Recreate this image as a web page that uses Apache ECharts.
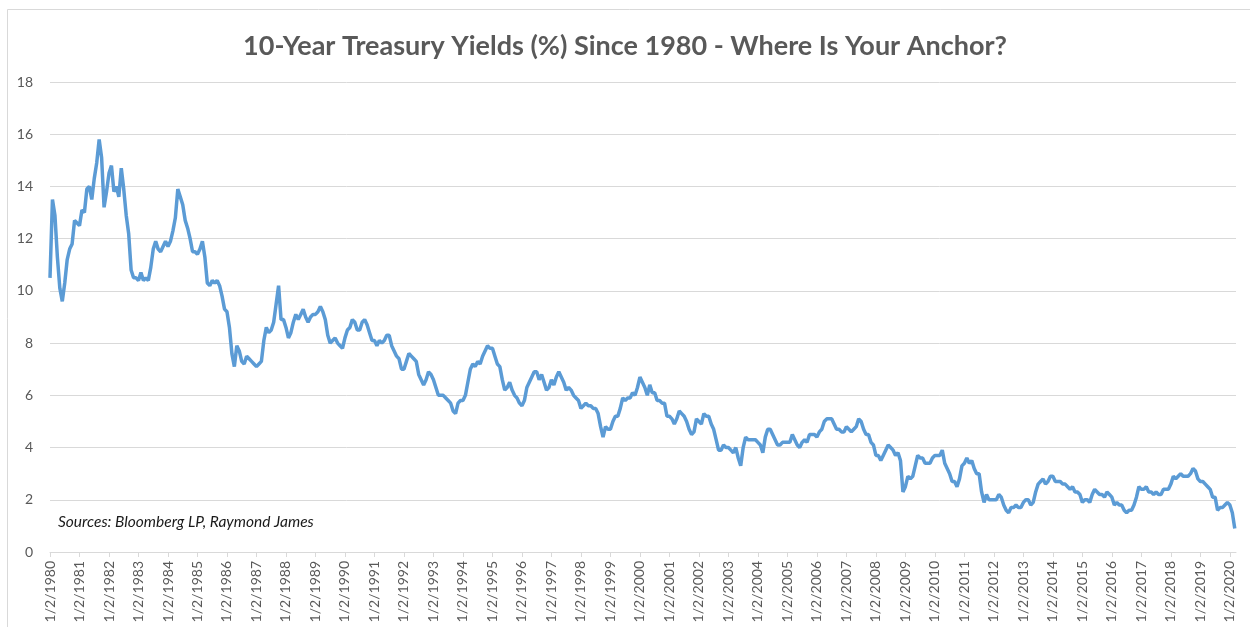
<!DOCTYPE html>
<html>
<head>
<meta charset="utf-8">
<script src="https://cdn.jsdelivr.net/npm/echarts@6/dist/echarts.min.js"></script>
<style>
html,body{margin:0;padding:0;background:#fff;}
#chart{width:1250px;height:627px;}
</style>
</head>
<body>
<div id="chart"></div>
<script>
// Tick labels (one per January)
const yearLabels = ['1/2/1980','1/2/1981','1/2/1982','1/2/1983','1/2/1984','1/2/1985','1/2/1986','1/2/1987','1/2/1988','1/2/1989','1/2/1990','1/2/1991','1/2/1992','1/2/1993','1/2/1994','1/2/1995','1/2/1996','1/2/1997','1/2/1998','1/2/1999','1/2/2000','1/2/2001','1/2/2002','1/2/2003','1/2/2004','1/2/2005','1/2/2006','1/2/2007','1/2/2008','1/2/2009','1/2/2010','1/2/2011','1/2/2012','1/2/2013','1/2/2014','1/2/2015','1/2/2016','1/2/2017','1/2/2018','1/2/2019','1/2/2020'];

// Monthly 10-year yields (%), Jan 1980 .. Mar 2020
const y1980s = [
  10.5,13.5,12.9,11.3,10.1,9.6,10.3,11.2,11.6,11.8,12.7,12.6,
  12.5,13.1,13.0,13.9,14.0,13.5,14.3,14.9,15.8,15.1,13.2,13.8,
  14.5,14.8,13.8,14.0,13.6,14.7,13.9,12.9,12.2,10.8,10.5,10.5,
  10.4,10.7,10.4,10.5,10.4,10.9,11.6,11.9,11.6,11.5,11.7,11.9,
  11.7,11.9,12.3,12.8,13.9,13.6,13.3,12.7,12.4,12.0,11.5,11.5,
  11.4,11.6,11.9,11.3,10.3,10.2,10.4,10.3,10.4,10.2,9.8,9.3,
  9.2,8.6,7.6,7.1,7.9,7.7,7.3,7.2,7.5,7.4,7.3,7.2,
  7.1,7.2,7.3,8.1,8.6,8.4,8.5,8.8,9.5,10.2,8.9,8.9,
  8.6,8.2,8.4,8.8,9.1,8.9,9.1,9.3,9.0,8.8,9.0,9.1,
  9.1,9.2,9.4,9.2,8.9,8.3,8.0,8.1,8.2,8.0,7.9,7.8
];
const y1990s = [
  8.2,8.5,8.6,8.9,8.8,8.5,8.5,8.8,8.9,8.7,8.4,8.1,
  8.1,7.9,8.1,8.0,8.1,8.3,8.3,7.9,7.7,7.5,7.4,7.0,
  7.0,7.3,7.6,7.5,7.4,7.3,6.8,6.6,6.4,6.6,6.9,6.8,
  6.6,6.3,6.0,6.0,6.0,5.9,5.8,5.7,5.4,5.3,5.7,5.8,
  5.8,6.0,6.5,7.0,7.2,7.1,7.3,7.2,7.5,7.7,7.9,7.8,
  7.8,7.5,7.2,7.1,6.6,6.2,6.3,6.5,6.2,6.0,5.9,5.7,
  5.6,5.8,6.3,6.5,6.7,6.9,6.9,6.6,6.8,6.5,6.2,6.3,
  6.6,6.4,6.7,6.9,6.7,6.5,6.2,6.3,6.2,6.0,5.9,5.8,
  5.5,5.6,5.7,5.6,5.6,5.5,5.5,5.3,4.8,4.4,4.8,4.7,
  4.7,5.0,5.2,5.2,5.5,5.9,5.8,5.9,5.9,6.1,6.0,6.3
];
const y2000s = [
  6.7,6.5,6.3,6.0,6.4,6.1,6.1,5.8,5.8,5.7,5.7,5.2,
  5.2,5.1,4.9,5.1,5.4,5.3,5.2,5.0,4.7,4.5,4.6,5.1,
  5.0,4.9,5.3,5.2,5.2,4.9,4.7,4.3,3.9,3.9,4.1,4.0,
  4.0,3.9,3.8,4.0,3.6,3.3,4.0,4.4,4.3,4.3,4.3,4.3,
  4.2,4.1,3.8,4.4,4.7,4.7,4.5,4.3,4.1,4.1,4.2,4.2,
  4.2,4.2,4.5,4.3,4.1,4.0,4.2,4.3,4.2,4.5,4.5,4.5,
  4.4,4.6,4.7,5.0,5.1,5.1,5.1,4.9,4.7,4.7,4.6,4.6,
  4.8,4.7,4.6,4.7,4.8,5.1,5.0,4.7,4.5,4.5,4.2,4.1,
  3.7,3.7,3.5,3.7,3.9,4.1,4.0,3.9,3.7,3.8,3.5,2.3,
  2.5,2.9,2.8,2.9,3.3,3.7,3.6,3.6,3.4,3.4,3.4,3.6
];
const y2010s = [
  3.7,3.7,3.7,3.9,3.4,3.2,3.0,2.7,2.7,2.5,2.8,3.3,
  3.4,3.6,3.4,3.5,3.2,3.0,3.0,2.3,1.9,2.2,2.0,2.0,
  2.0,2.0,2.2,2.1,1.8,1.6,1.5,1.7,1.7,1.8,1.7,1.7,
  1.9,2.0,2.0,1.8,1.9,2.3,2.6,2.7,2.8,2.6,2.7,2.9,
  2.9,2.7,2.7,2.7,2.6,2.6,2.5,2.4,2.5,2.3,2.3,2.2,
  1.9,2.0,2.0,1.9,2.2,2.4,2.3,2.2,2.2,2.1,2.3,2.2,
  2.1,1.8,1.9,1.8,1.8,1.6,1.5,1.6,1.6,1.8,2.1,2.5,
  2.4,2.4,2.5,2.3,2.3,2.2,2.3,2.2,2.2,2.4,2.4,2.4,
  2.6,2.9,2.8,2.9,3.0,2.9,2.9,2.9,3.0,3.2,3.1,2.8,
  2.7,2.7,2.6,2.5,2.4,2.1,2.1,1.6,1.7,1.7,1.8,1.9
];
const y2020s = [1.8,1.5,0.9];

const yields = y1980s.concat(y1990s, y2000s, y2010s, y2020s);
const seriesData = yields.map((v, i) => [i, v]);

const chart = echarts.init(document.getElementById('chart'), null, {renderer: 'canvas'});
chart.setOption({
  animation: false,
  backgroundColor: '#ffffff',
  title: {
    text: '10-Year Treasury Yields (%) Since 1980 - Where Is Your Anchor?',
    left: 'center',
    top: 28,
    textStyle: {fontFamily: 'Lato', fontWeight: 'bold', fontSize: 27, color: '#595959'}
  },
  grid: {left: 50, right: 14, top: 82, bottom: 75, containLabel: false},
  xAxis: {
    type: 'value',
    min: 0,
    max: 482.5,
    interval: 12,
    splitLine: {show: false},
    axisLine: {show: true, lineStyle: {color: '#d9d9d9', width: 1}},
    axisTick: {show: true, length: 5, lineStyle: {color: '#d9d9d9'}},
    axisLabel: {
      rotate: 90,
      margin: 9,
      showMaxLabel: false,
      fontFamily: 'Lato',
      fontSize: 14,
      color: '#595959',
      formatter: function (v) { const k = Math.round(v / 12); return (v % 12 === 0 && yearLabels[k]) ? yearLabels[k] : ''; }
    }
  },
  yAxis: {
    type: 'value',
    min: 0,
    max: 18,
    interval: 2,
    axisLine: {show: false},
    axisTick: {show: false},
    splitLine: {lineStyle: {color: '#d9d9d9', width: 1}},
    axisLabel: {margin: 17, fontFamily: 'Lato', fontSize: 14, color: '#595959'}
  },
  graphic: [
    {type: 'rect', shape: {x: 7.5, y: 9.5, width: 1300, height: 700}, style: {fill: 'none', stroke: '#d9d9d9', lineWidth: 1}, silent: true},
    {type: 'text', left: 58, top: 514, style: {text: 'Sources: Bloomberg LP, Raymond James', fontFamily: 'Lato', fontStyle: 'italic', fontSize: 15.5, fill: '#1a1a1a'}}
  ],
  series: [{
    type: 'line',
    data: seriesData,
    showSymbol: false,
    lineStyle: {color: '#5B9BD5', width: 3.5},
    itemStyle: {color: '#5B9BD5'}
  }]
});
</script>
</body>
</html>
